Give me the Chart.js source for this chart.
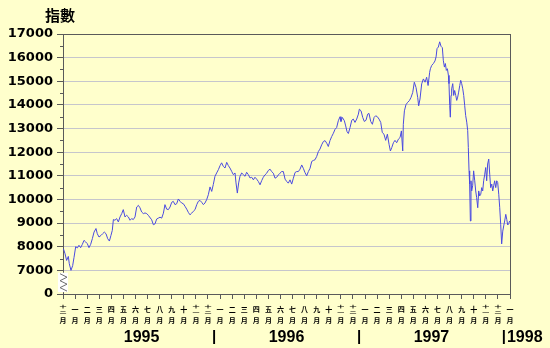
<!DOCTYPE html>
<html>
<head>
<meta charset="utf-8">
<script src="https://cdn.jsdelivr.net/npm/chart.js@4/dist/chart.umd.min.js"></script>
<style>
  html, body { margin: 0; padding: 0; background: #FFFFCC; }
  #wrap { width: 550px; height: 348px; }
</style>
</head>
<body>
<div id="wrap"><canvas id="hsiChart"></canvas></div>
<script>
// month position (0 = 十二月 1994 tick, 1 = 一月 1995 ...) and index value
const monthPos = [
  0.03, 0.17, 0.30, 0.44, 0.52, 0.66, 0.80, 0.91, 1.05, 1.19, 1.32, 1.46, 1.60, 1.74, 1.88, 2.01,
  2.15, 2.29, 2.43, 2.57, 2.73, 2.84, 2.98, 3.15, 3.28, 3.42, 3.56, 3.70, 3.84, 3.97, 4.08, 4.17,
  4.30, 4.44, 4.58, 4.72, 4.86, 4.99, 5.13, 5.27, 5.41, 5.55, 5.68, 5.82, 5.96, 6.10, 6.24, 6.37,
  6.51, 6.65, 6.79, 6.93, 7.06, 7.34, 7.48, 7.62, 7.75, 7.89, 8.03, 8.17, 8.31, 8.44, 8.58, 8.72,
  8.86, 9.00, 9.13, 9.27, 9.41, 9.55, 9.69, 9.82, 9.96, 10.10, 10.24, 10.38, 10.51, 10.65, 10.79, 10.93,
  11.07, 11.20, 11.34, 11.48, 11.62, 11.75, 11.89, 12.03, 12.17, 12.31, 12.44, 12.58, 12.72, 12.86, 13.00, 13.13,
  13.27, 13.41, 13.55, 13.69, 13.82, 13.96, 14.10, 14.24, 14.32, 14.43, 14.54, 14.65, 14.79, 14.93, 15.07, 15.20,
  15.34, 15.48, 15.62, 15.76, 15.89, 16.03, 16.17, 16.31, 16.45, 16.58, 16.72, 16.86, 17.00, 17.14, 17.27, 17.41,
  17.55, 17.69, 17.83, 17.96, 18.10, 18.24, 18.38, 18.52, 18.65, 18.79, 18.93, 19.07, 19.21, 19.34, 19.48, 19.62,
  19.76, 19.89, 20.03, 20.17, 20.31, 20.45, 20.59, 20.72, 20.86, 21.00, 21.14, 21.27, 21.41, 21.55, 21.69, 21.83,
  21.96, 22.10, 22.24, 22.38, 22.52, 22.65, 22.79, 22.93, 23.01, 23.12, 23.29, 23.40, 23.51, 23.62, 23.76, 23.90,
  24.03, 24.17, 24.31, 24.45, 24.53, 24.67, 24.81, 24.94, 25.08, 25.22, 25.33, 25.47, 25.61, 25.75, 25.88, 26.02,
  26.16, 26.30, 26.43, 26.57, 26.71, 26.85, 26.99, 27.10, 27.21, 27.35, 27.48, 27.62, 27.76, 27.90, 28.01, 28.12,
  28.17, 28.26, 28.39, 28.53, 28.67, 28.81, 28.95, 29.08, 29.22, 29.36, 29.44, 29.55, 29.69, 29.83, 29.97, 30.10,
  30.22, 30.35, 30.41, 30.52, 30.66, 30.79, 30.88, 30.96, 31.07, 31.18, 31.29, 31.40, 31.48, 31.57, 31.65, 31.73,
  31.82, 31.90, 31.95, 32.01, 32.06, 32.12, 32.17, 32.26, 32.34, 32.42, 32.51, 32.59, 32.67, 32.75, 32.84, 32.92,
  33.00, 33.09, 33.17, 33.25, 33.33, 33.42, 33.50, 33.55, 33.61, 33.66, 33.72, 33.77, 33.83, 33.91, 33.99, 34.08,
  34.16, 34.24, 34.33, 34.41, 34.49, 34.58, 34.66, 34.74, 34.82, 34.91, 34.99, 35.07, 35.15, 35.24, 35.32, 35.40,
  35.49, 35.57, 35.65, 35.73, 35.82, 35.90, 35.98, 36.07, 36.15, 36.23, 36.31, 36.40, 36.48, 36.56, 36.65, 36.73,
  36.81, 36.89, 36.97
];
const hsiValues = [
  7920, 7700, 7420, 7590, 7280, 7000, 7200, 7540, 8000, 7950, 8060, 7960, 8100, 8270, 8200, 8130,
  7960, 8100, 8340, 8620, 8770, 8550, 8410, 8480, 8550, 8620, 8550, 8340, 8240, 8480, 8690, 9150,
  9120, 9190, 9050, 9260, 9400, 9570, 9260, 9330, 9260, 9120, 9190, 9150, 9260, 9680, 9750, 9650,
  9470, 9400, 9430, 9400, 9330, 9140, 8930, 8970, 9170, 9210, 9250, 9210, 9420, 9780, 9590, 9570,
  9680, 9880, 9920, 9780, 9820, 10020, 9920, 9850, 9820, 9710, 9590, 9450, 9350, 9420, 9500, 9570,
  9780, 9920, 9960, 9880, 9780, 9850, 9990, 10200, 10530, 10340, 10630, 10980, 11120, 11260, 11430, 11550,
  11400, 11330, 11570, 11430, 11330, 11190, 11050, 11120, 10700, 10270, 10700, 10980, 11120, 11050, 10980, 11150,
  11050, 10910, 10940, 10830, 10940, 10860, 10760, 10620, 10800, 10940, 11040, 11110, 11230, 11280, 11180, 11110,
  10900, 10940, 11040, 11110, 11180, 11180, 10860, 10760, 10690, 10830, 10650, 10900, 11140, 11180, 11180, 11280,
  11460, 11320, 11140, 11000, 11180, 11320, 11610, 11650, 11680, 11820, 12030, 12130, 12310, 12450, 12490, 12380,
  12240, 12490, 12660, 12800, 12970, 13040, 13330, 13500, 13300, 13470, 13330, 13110, 12870, 12790, 13040, 13350,
  13400, 13260, 13400, 13610, 13820, 13750, 13470, 13300, 13350, 13610, 13640, 13300, 13180, 13470, 13540, 13500,
  13400, 13260, 12830, 12760, 12500, 12760, 12330, 12050, 12190, 12400, 12500, 12400, 12550, 12620, 12900, 12050,
  13180, 13750, 14010, 14110, 14180, 14320, 14530, 14960, 14740, 14320, 13960, 14250, 14890, 15100, 14960, 15170,
  14820, 15380, 15530, 15670, 15750, 15860, 16030, 16380, 16450, 16670, 16480, 16420, 15890, 15600, 15750, 15460,
  15530, 15250, 14900, 13970, 13480, 14400, 14680, 14900, 14400, 14610, 14400, 14190, 14330, 14540, 14820, 15040,
  14900, 14680, 14400, 13970, 13550, 13270, 12910, 12200, 11210, 10650, 9090, 10790, 10360, 10580, 11210, 10790,
  10360, 10080, 9650, 10360, 10150, 10220, 10500, 10360, 10790, 11070, 11350, 10790, 11500, 11710, 11070, 10500,
  10650, 10360, 10580, 10790, 10500, 10790, 10720, 10220, 9650, 8950, 8120, 8660, 8880, 9090, 9370, 9160,
  8920, 8970, 9090
];

const monthNumerals = ['一', '二', '三', '四', '五', '六', '七', '八', '九', '十', '十一', '十二'];
// 十二月 1994, then 1995-1997, then 一月 1998
const monthLabels = ['十二'].concat(monthNumerals, monthNumerals, monthNumerals, ['一']);
const yearLabels = ['1995', '1996', '1997', '1998'];
const yMin = 6000, yMax = 17000;   // 6000 stands for the broken "0"

const axisColor = '#5a5a5a';
const gridColor = '#c6c6cc';
const lineColor = '#4a4ae0';

const points = monthPos.map((m, i) => ({ x: m, y: hsiValues[i] }));

const decor = {
  id: 'decor',
  afterDraw(chart) {
    const ctx = chart.ctx;
    const a = chart.chartArea;
    const xs = chart.scales.x, ys = chart.scales.y;
    ctx.save();

    // top and right frame
    ctx.strokeStyle = axisColor;
    ctx.lineWidth = 1;
    ctx.beginPath();
    ctx.moveTo(a.left, Math.round(a.top) + 0.5);
    ctx.lineTo(a.right, Math.round(a.top) + 0.5);
    ctx.moveTo(Math.round(a.right) + 0.5, a.top);
    ctx.lineTo(Math.round(a.right) + 0.5, a.bottom);
    ctx.stroke();

    // minor ticks on y axis
    ctx.beginPath();
    for (let v = 7500; v < yMax; v += 1000) {
      const py = Math.round(ys.getPixelForValue(v)) + 0.5;
      ctx.moveTo(a.left - 3, py);
      ctx.lineTo(a.left, py);
    }
    ctx.stroke();

    // axis break between 0 and 7000
    const bTop = ys.getPixelForValue(6900), bBot = ys.getPixelForValue(6080);
    ctx.fillStyle = '#ffffff';
    ctx.fillRect(a.left - 5, bTop, 10, bBot - bTop);
    ctx.strokeStyle = '#707070';
    ctx.beginPath();
    const steps = 5;
    for (let k = 0; k <= steps; k++) {
      const py = bTop + 1 + (bBot - bTop - 2) * k / steps;
      const px = (k % 2 === 0) ? a.left - 3 : a.left + 4;
      if (k === 0) ctx.moveTo(px, py); else ctx.lineTo(px, py);
    }
    ctx.stroke();

    // month labels (vertical)
    ctx.fillStyle = '#000';
    ctx.textAlign = 'center';
    ctx.textBaseline = 'middle';
    monthLabels.forEach((lab, i) => {
      const px = xs.getPixelForValue(i);
      ctx.font = 'bold 7px "Noto Sans CJK TC"';
      if (lab.length === 1) {
        ctx.fillText(lab, px, 309);
      } else {
        ctx.save();
        ctx.translate(px, 309.5);
        ctx.scale(1, 0.55);
        ctx.fillText(lab[0], 0, -5);
        ctx.fillText(lab[1], 0, 5);
        ctx.restore();
      }
      ctx.fillText('月', px, 320.5);
    });

    // year labels
    ctx.font = 'bold 16px "Liberation Sans"';
    ctx.textBaseline = 'alphabetic';
    ctx.textAlign = 'center';
    for (let k = 0; k < 3; k++) {
      ctx.fillText(yearLabels[k], xs.getPixelForValue(6.5 + 12 * k), 342);
    }
    ctx.font = 'bold 15px "Liberation Sans"';
    for (let k = 0; k < 3; k++) {
      ctx.fillText('|', xs.getPixelForValue(12.5 + 12 * k), 341);
    }
    ctx.font = 'bold 16px "Liberation Sans"';
    ctx.textAlign = 'left';
    ctx.fillText(yearLabels[3], xs.getPixelForValue(36.5) + 3, 342);

    // axis title
    ctx.font = 'bold 15px "Noto Sans CJK TC"';
    ctx.textBaseline = 'middle';
    ctx.fillText('指數', 45, 15);

    ctx.restore();
  }
};

new Chart(document.getElementById('hsiChart'), {
  type: 'line',
  data: {
    datasets: [{
      data: points,
      borderColor: lineColor,
      borderWidth: 1,
      pointRadius: 0,
      tension: 0,
      fill: false
    }]
  },
  options: {
    responsive: true,
    maintainAspectRatio: false,
    animation: false,
    layout: { padding: { top: 34, right: 40, left: 0, bottom: 0 } },
    plugins: { legend: { display: false }, tooltip: { enabled: false } },
    scales: {
      x: {
        type: 'linear',
        min: 0,
        max: 37,
        ticks: { display: false, stepSize: 1 },
        grid: { drawOnChartArea: false, tickLength: 5, tickColor: axisColor },
        border: { color: axisColor },
        afterFit: s => { s.height = 54; }
      },
      y: {
        min: yMin,
        max: yMax,
        ticks: {
          stepSize: 1000,
          padding: 4,
          color: '#000',
          font: { family: 'DejaVu Sans', size: 13, weight: 'bold' },
          callback: v => v === yMin ? '0' : String(v)
        },
        grid: {
          tickLength: 6,
          tickColor: axisColor,
          color: c => c.tick.value === yMax ? axisColor : (c.tick.value > yMin ? gridColor : 'rgba(0,0,0,0)')
        },
        border: { color: axisColor },
        afterFit: s => { s.width = 63; }
      }
    }
  },
  plugins: [decor]
});
</script>
</body>
</html>
